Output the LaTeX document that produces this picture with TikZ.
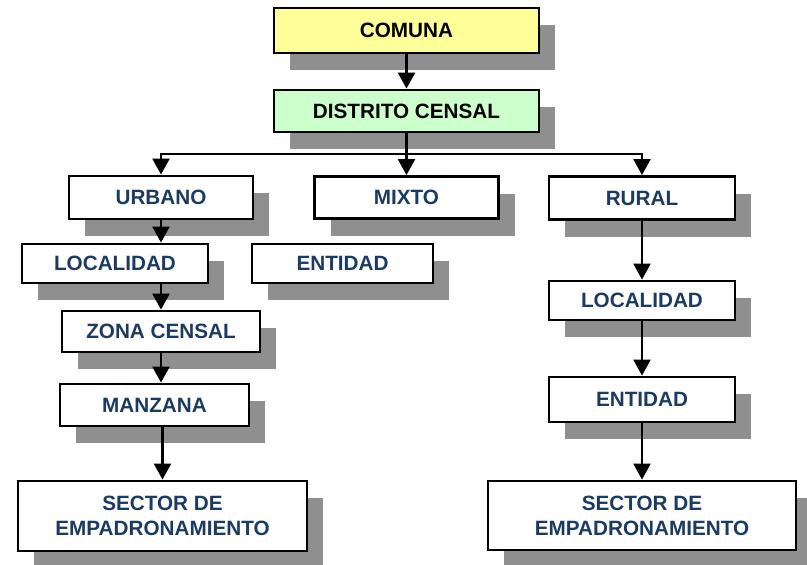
\documentclass[tikz,border=0pt]{standalone}
\usepackage{fontspec}
\setmainfont{Liberation Sans}
\usetikzlibrary{arrows.meta,shadows}
\definecolor{navy}{HTML}{1B3A64}
\definecolor{shadowgray}{HTML}{8F8F8F}
\definecolor{paleyellow}{HTML}{FFFF99}
\definecolor{palegreen}{HTML}{CCFFCC}
\tikzset{
  boxbase/.style={draw=black, line width=2.9pt, fill=white, inner sep=0pt,
    font=\fontsize{20.7}{25}\selectfont\bfseries, text=navy, align=center,
    drop shadow={shadow xshift=16pt, shadow yshift=-17pt, fill=shadowgray, opacity=1}},
  topbox/.style={boxbase, text=black},
  conn/.style={line width=2.4pt, draw=black},
  tip/.style={-{Triangle[length=16pt,width=17pt]}},
}
\begin{document}
\begin{tikzpicture}[x=1pt,y=-1pt]
\useasboundingbox[fill=white] (0,0) rectangle (807,565);
% top level
\node[topbox, fill=paleyellow, minimum width=265pt, minimum height=45pt] (comuna) at (406.5,30.5) {COMUNA};
\node[topbox, fill=palegreen, minimum width=265pt, minimum height=42pt] (distrito) at (406.5,111) {DISTRITO CENSAL};
% second level
\node[boxbase, minimum width=184pt, minimum height=43pt] (urbano) at (161,197.5) {URBANO};
\node[boxbase, minimum width=184pt, minimum height=42pt] (mixto) at (406.5,197.5) {MIXTO};
\node[boxbase, minimum width=186pt, minimum height=43pt] (rural) at (642,198) {RURAL};
% left branch
\node[boxbase, minimum width=186pt, minimum height=39pt] (locl) at (115,263.5) {LOCALIDAD};
\node[boxbase, minimum width=181pt, minimum height=39pt] (entm) at (342.5,263.5) {ENTIDAD};
\node[boxbase, minimum width=198pt, minimum height=41pt] (zona) at (161,331.5) {ZONA CENSAL};
\node[boxbase, minimum width=189pt, minimum height=42pt] (manz) at (154.5,405) {MANZANA};
\node[boxbase, minimum width=289pt, minimum height=70pt] (sectl) at (162.5,516) {SECTOR DE\\EMPADRONAMIENTO};
% right branch
\node[boxbase, minimum width=186pt, minimum height=39pt] (locr) at (642,300.5) {LOCALIDAD};
\node[boxbase, minimum width=186pt, minimum height=45pt] (entr) at (642,399.5) {ENTIDAD};
\node[boxbase, minimum width=308pt, minimum height=69pt] (sectr) at (642,515.5) {SECTOR DE\\EMPADRONAMIENTO};
% connectors
\coordinate (bus) at (406.5,154);
\draw[conn, tip] (comuna.south) -- (distrito.north);
\draw[conn, tip] (distrito.south) -- (mixto.north);
\draw[conn, {Triangle[length=16pt,width=17pt]}-{Triangle[length=16pt,width=17pt]}]
  (urbano.north) -- (bus -| urbano.north) -- (bus -| rural.north) -- (rural.north);
\draw[conn, tip] (urbano.south) -- (urbano.south |- locl.north);
\draw[conn, tip] (zona.north |- locl.south) -- (zona.north);
\draw[conn, tip] (zona.south) -- (zona.south |- manz.north);
\draw[conn, tip] (sectl.north |- manz.south) -- (sectl.north);
\draw[conn, tip] (rural.south) -- (locr.north);
\draw[conn, tip] (locr.south) -- (entr.north);
\draw[conn, tip] (entr.south) -- (sectr.north);
\end{tikzpicture}
\end{document}
